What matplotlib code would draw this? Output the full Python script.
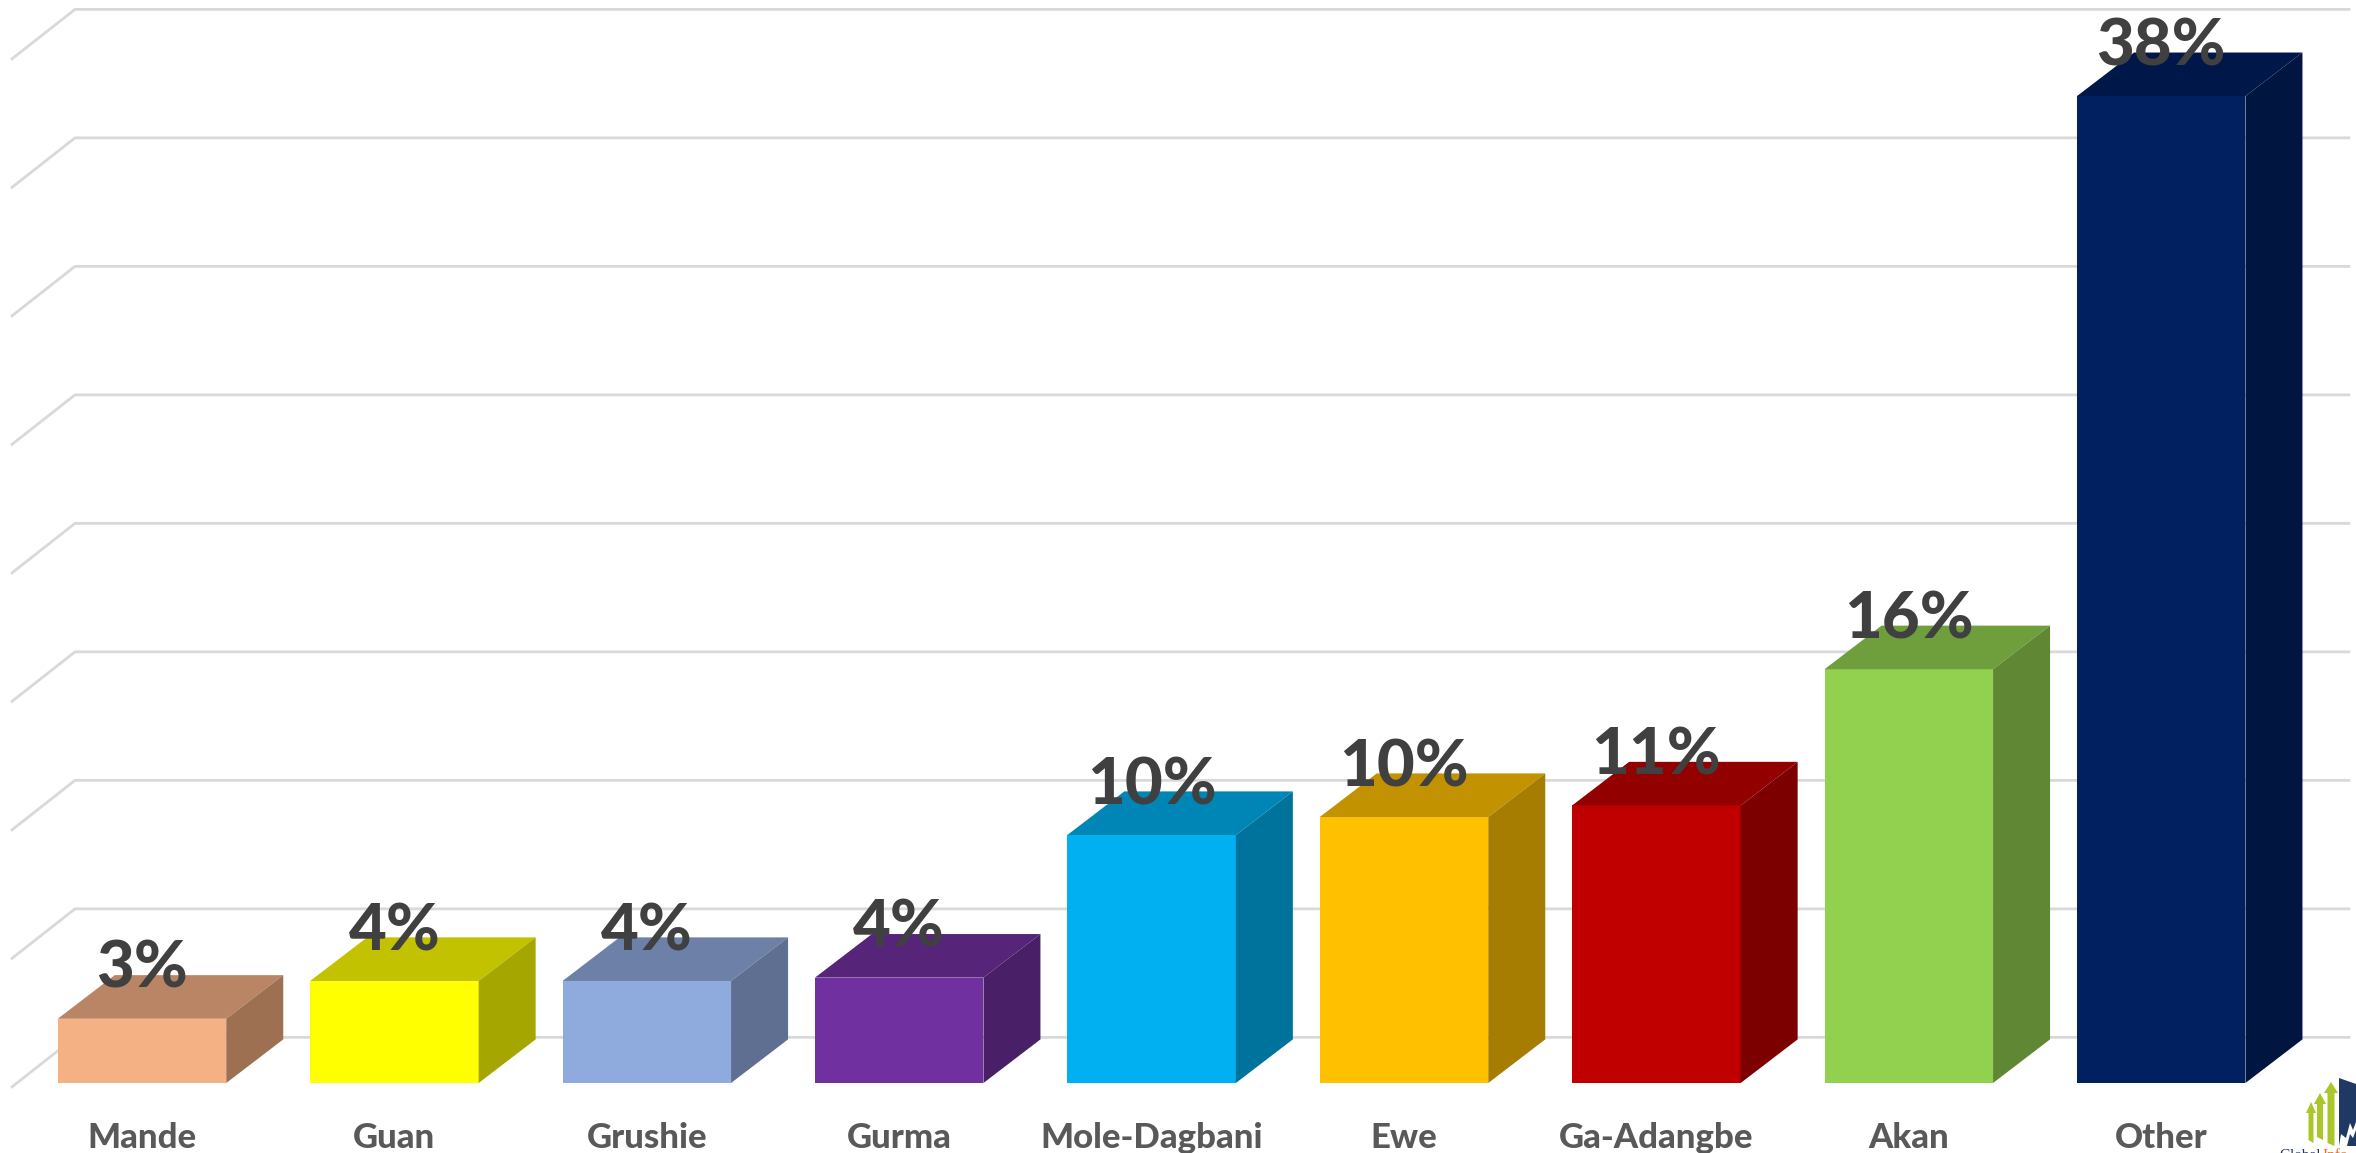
import matplotlib
matplotlib.use('Agg')
import matplotlib.pyplot as plt
from matplotlib.patches import Polygon

categories = ['Mande', 'Guan', 'Grushie', 'Gurma', 'Mole-Dagbani', 'Ewe', 'Ga-Adangbe', 'Akan', 'Other']
values = [2.5, 3.97, 3.97, 4.1, 9.65, 10.35, 10.8, 16.1, 38.4]
value_labels = ['3%', '4%', '4%', '4%', '10%', '10%', '11%', '16%', '38%']
grid_values = [0, 5, 10, 15, 20, 25, 30, 35, 40]

front_colors = ['#F4B183', '#FFFF00', '#8FAADC', '#7030A0', '#00B0F0', '#FFC000', '#C00000', '#92D050', '#002060']
top_colors = ['#B98564', '#C2C200', '#6C80A8', '#562579', '#0085B7', '#C29200', '#920000', '#6F9E3D', '#001849']
side_colors = ['#9C7050', '#A6A600', '#5E6F91', '#491F68', '#00739D', '#A67D00', '#7D0000', '#5F8734', '#00153F']

W, H = 2356, 1153
px_x = 252.4    # pixels per category
px_y = 25.7     # pixels per percent
x0 = 142
y0 = 1083

fig = plt.figure(figsize=(W / 100, H / 100), dpi=100)
ax = fig.add_axes([0, 0, 1, 1])
ax.set_xlim(-x0 / px_x, (W - x0) / px_x)
ax.set_ylim(-(H - y0) / px_y, y0 / px_y)
ax.axis('off')

bar_w = 168.5 / px_x
depth_x = 57 / px_x
depth_y = 43.6 / px_y
wall_x = 63 / px_x
wall_y = 49.5 / px_y
wall_left = (12 - x0) / px_x
wall_right = (2349 - x0) / px_x

# floor and wall lines
for v in grid_values:
    ax.plot([wall_left, wall_left + wall_x, wall_right],
            [v - 0.15, v - 0.15 + wall_y, v - 0.15 + wall_y],
            color='#D9D9D9', lw=2, zorder=1, solid_joinstyle='miter')

# the 3d boxes
for i, v in enumerate(values):
    left = i - bar_w / 2
    right = i + bar_w / 2
    ax.bar(i, v, width=bar_w, color=front_colors[i], linewidth=0, zorder=3)
    top = [(left, v), (right, v), (right + depth_x, v + depth_y), (left + depth_x, v + depth_y)]
    side = [(right, 0), (right + depth_x, depth_y), (right + depth_x, v + depth_y), (right, v)]
    ax.add_patch(Polygon(top, closed=True, facecolor=top_colors[i], edgecolor='none', zorder=3))
    ax.add_patch(Polygon(side, closed=True, facecolor=side_colors[i], edgecolor='none', zorder=3))
    ax.text(i, v + 1.2, value_labels[i], ha='center', va='baseline', fontsize=47,
            fontweight=900, family='Lato', color='#404040', zorder=5)
    ax.text(i, -2.14, categories[i], ha='center', va='center', fontsize=25,
            fontweight=900, family='Lato', color='#595959', zorder=5)

# logo in the corner, in pixel coordinates
def px(points):
    return [(x / W, 1 - y / H) for x, y in points]

logo_green = '#A9C72B'
logo_blue = '#1F3864'
arrows = [(2311, 1102, 1143, 5), (2320, 1093, 1140, 6), (2331, 1082, 1146, 7)]
for ax_x, y_top, y_bot, hw in arrows:
    shape = [(ax_x, y_top), (ax_x + hw, y_top + 11), (ax_x + hw / 2, y_top + 11), (ax_x + hw / 2, y_bot),
             (ax_x - hw / 2, y_bot - 3), (ax_x - hw / 2, y_top + 11), (ax_x - hw, y_top + 11)]
    fig.patches.append(Polygon(px(shape), closed=True, transform=fig.transFigure, facecolor=logo_green, edgecolor='none'))
fig.patches.append(Polygon(px([(2339, 1078), (2356, 1084), (2356, 1146), (2339, 1146)]), closed=True,
                           transform=fig.transFigure, facecolor=logo_blue, edgecolor='none'))
fig.patches.append(Polygon(px([(2339, 1146), (2341, 1134), (2346, 1138), (2350, 1123), (2353, 1130), (2356, 1122), (2356, 1130), (2353, 1138), (2350, 1134), (2347, 1146)]),
                           closed=True, transform=fig.transFigure, facecolor='white', edgecolor='none'))
fig.text(2279 / W, 1 - 1149 / H, 'Global', fontsize=11, family='Liberation Serif', color=logo_blue, ha='left', va='top')
fig.text(2322 / W, 1 - 1149 / H, 'Info', fontsize=11, family='Liberation Serif', color='#E8681E', ha='left', va='top')

fig.savefig('out.png', dpi=100)
